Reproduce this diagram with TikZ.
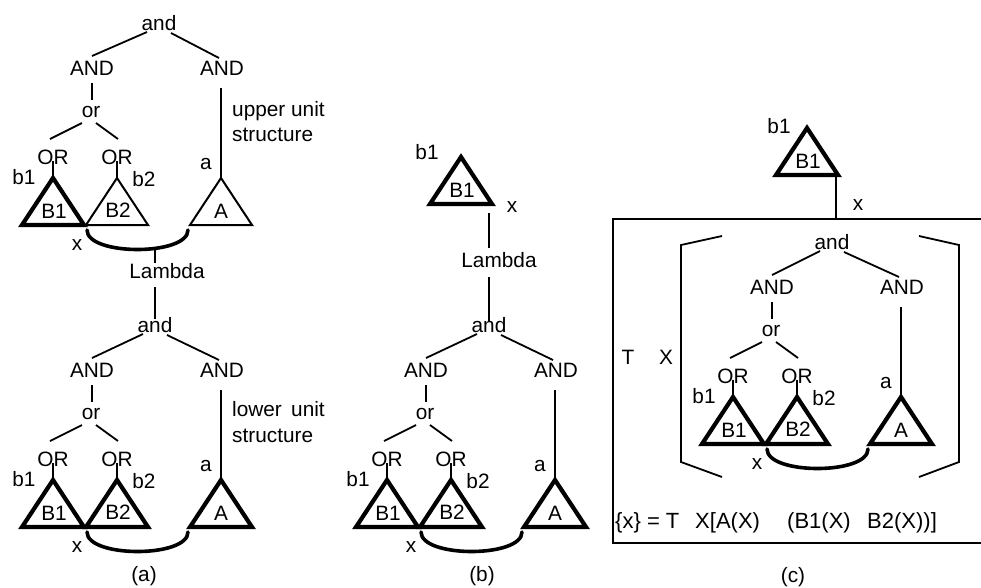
\documentclass[tikz,border=0pt]{standalone}
\usepackage{fontspec}
\setmainfont{Liberation Sans}
\begin{document}
\begin{tikzpicture}[x=1pt,y=-1pt,
  lbl/.style={inner sep=0pt,font=\fontsize{20.8}{24}\selectfont},
  flbl/.style={inner sep=0pt,font=\fontsize{22}{26}\selectfont},
  ln/.style={line width=1.8pt},
  tri/.style={line width=4.2pt,line join=miter},
  thintri/.style={line width=2pt,line join=miter},
  arcln/.style={line width=3.6pt,line cap=round}]
\useasboundingbox (0,0) rectangle (981,587);
\newcommand\mtree[7]{%
\begin{scope}[shift={(#2,#3)}]
 \node[lbl] (#1and) at (#7,23) {and};
 \node[lbl] (#1ANDL) at (92,68) {AND};
 \node[lbl] (#1ANDR) at (222,68) {AND};
 \node[lbl] (#1or) at (91,112) {or};
 \node[lbl] (#1ORL) at (53,157) {OR};
 \node[lbl] (#1ORR) at (117,157) {OR};
 \coordinate (#1B1top) at (53,178);
 \coordinate (#1B2top) at (117,178);
 \coordinate (#1Atop) at (221,178);
 \draw[#4] (#1B1top) -- ++(-31,47) -- ++(62,0) -- cycle;
 \draw[#5] (#1B2top) -- ++(-31,47) -- ++(62,0) -- cycle;
 \draw[#6] (#1Atop) -- ++(-31,47) -- ++(62,0) -- cycle;
 \node[lbl] (#1B1) at (54,211) {B1};
 \node[lbl] (#1B2) at (118,210) {B2};
 \node[lbl] (#1A) at (221,211) {A};
 \node[lbl] (#1a) at (206,164) {a};
 \node[lbl] (#1b1) at (24,177) {b1};
 \node[lbl] (#1b2) at (144,179) {b2};
 \node[lbl] (#1x) at (77,245) {x};
 \coordinate (#1arcL) at (87,230);
 \coordinate (#1arcR) at (188,230);
 \draw[arcln] (#1arcL) .. controls +(0,26) and +(0,26) .. (#1arcR);
 \draw[ln] ([shift={(-12,9)}]#1and.center) -- ([shift={(0,-12)}]#1ANDL.center);
 \draw[ln] ([shift={(12,10)}]#1and.center) -- ([shift={(-3,-10)}]#1ANDR.center);
 \draw[ln] ([shift={(0,15)}]#1ANDL.center) -- ([shift={(1,-12)}]#1or.center);
 \draw[ln] ([shift={(-9,11)}]#1or.center) -- ([shift={(-3,-18)}]#1ORL.center);
 \draw[ln] ([shift={(5,11)}]#1or.center) -- ([shift={(1,-18)}]#1ORR.center);
 \draw[ln] ([shift={(0,4)}]#1ORL.center) -- (#1B1top);
 \draw[ln] ([shift={(0,4)}]#1ORR.center) -- (#1B2top);
 \draw[ln] ([shift={(-1,20)}]#1ANDR.center) -- (#1Atop);
\end{scope}}
% ---------- panel (a)
\mtree{au}{0}{0}{tri}{thintri}{thintri}{159}
\node[lbl,anchor=base west] (aup1) at (232,116) {upper unit};
\node[lbl,anchor=base west] (aup2) at (232,141) {structure};
\coordinate (aarcmid) at (155,249);
\node[lbl] (aLam) at (167,271) {Lambda};
\mtree{al}{0}{302}{tri}{tri}{tri}{155}
\draw[ln] (aarcmid) -- ([shift={(-12,-8)}]aLam.center);
\draw[ln] ([shift={(-12,16)}]aLam.center) -- ([shift={(0,-6)}]aland.center);
\node[lbl,anchor=base west] (alo1) at (232,416) {lower\hspace{0.45em}unit};
\node[lbl,anchor=base west] (alo2) at (232,442) {structure};
\node[lbl] (capa) at (144,576) {(a)};
% ---------- panel (b)
\coordinate (bB1top) at (461,157);
\draw[tri] (bB1top) -- ++(-31,47) -- ++(62,0) -- cycle;
\node[lbl] (bB1) at (462,190) {B1};
\node[lbl] (bb1) at (427,152) {b1};
\node[lbl] (bx) at (512,207) {x};
\coordinate (bB1out) at (489,213);
\node[lbl] (bLam) at (499,260) {Lambda};
\mtree{bl}{334}{302}{tri}{tri}{tri}{155}
\draw[ln] (bB1out) -- ([shift={(-10,-12)}]bLam.center);
\draw[ln] ([shift={(-10,17)}]bLam.center) -- ([shift={(0,-4)}]bland.center);
\node[lbl] (capb) at (482,576) {(b)};
% ---------- panel (c)
\coordinate (cboxtl) at (613,219);
\coordinate (cboxbr) at (985,543);
\draw[ln] (cboxtl) rectangle (cboxbr);
\coordinate (cB1top) at (807,128);
\draw[tri] (cB1top) -- ++(-31,47) -- ++(62,0) -- cycle;
\node[lbl] (cB1) at (808,161) {B1};
\node[lbl] (cb1) at (779,126) {b1};
\node[lbl] (cx) at (858,205) {x};
\coordinate (cB1out) at (836,177);
\coordinate (cboxin) at (836,219);
\draw[ln] (cB1out) -- (cboxin);
\draw[ln] (722,236) -- (681,245) -- (681,462) -- (722,477);
\draw[ln] (919,236) -- (959,245) -- (959,462) -- (919,477);
\node[lbl] (cT) at (628,357) {T};
\node[lbl] (cX) at (666,357) {X};
\mtree{ci}{680}{219}{tri}{tri}{tri}{152}
\node[flbl,anchor=base west] (cf1) at (615,528) {\{x\} = T};
\node[flbl,anchor=base west] (cf2) at (695,528) {X[A(X)};
\node[flbl,anchor=base west] (cf3) at (787,528) {(B1(X)};
\node[flbl,anchor=base west] (cf4) at (867,528) {B2(X))]};
\node[lbl] (capc) at (793,577) {(c)};
\end{tikzpicture}
\end{document}
